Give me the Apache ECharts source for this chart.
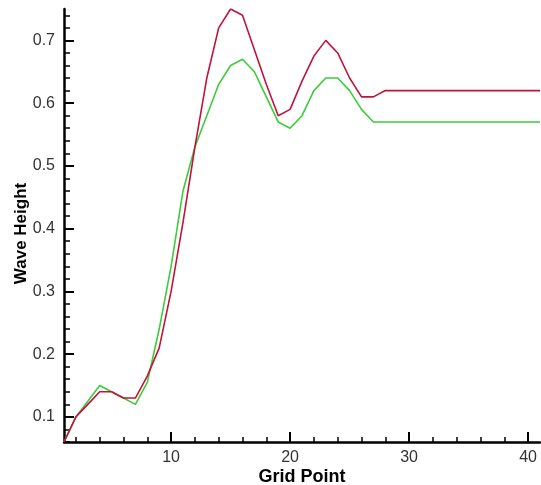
<!DOCTYPE html>
<html>
<head>
<meta charset="utf-8">
<title>Wave Height</title>
<script src="https://cdn.jsdelivr.net/npm/echarts@6/dist/echarts.min.js"></script>
<style>
  html, body { margin: 0; padding: 0; background: #fff; }
  #chart { width: 541px; height: 485px; }
</style>
</head>
<body>
<div id="chart"></div>
<script>
const gridPoints = [1, 2, 3, 4, 5, 6, 7, 8, 9, 10, 11, 12, 13, 14, 15, 16, 17, 18, 19, 20,
  21, 22, 23, 24, 25, 26, 27, 28, 29, 30, 31, 32, 33, 34, 35, 36, 37, 38, 39, 40, 41]

const redHeight = [0.06, 0.10, 0.12, 0.14, 0.14, 0.13, 0.13, 0.165, 0.21, 0.30,
  0.41, 0.53, 0.64, 0.72, 0.75, 0.74, 0.685, 0.63, 0.58, 0.59,
  0.635, 0.675, 0.70, 0.68, 0.64, 0.61, 0.61, 0.62, 0.62, 0.62,
  0.62, 0.62, 0.62, 0.62, 0.62, 0.62, 0.62, 0.62, 0.62, 0.62, 0.62]

const greenHeight = [0.06, 0.10, 0.125, 0.15, 0.14, 0.13, 0.12, 0.155, 0.24, 0.34,
  0.46, 0.53, 0.58, 0.63, 0.66, 0.67, 0.65, 0.61, 0.57, 0.56,
  0.58, 0.62, 0.64, 0.64, 0.62, 0.59, 0.57, 0.57, 0.57, 0.57,
  0.57, 0.57, 0.57, 0.57, 0.57, 0.57, 0.57, 0.57, 0.57, 0.57, 0.57]

const yMajorTicks = [0.1, 0.2, 0.3, 0.4, 0.5, 0.6, 0.7]
const yMinorTicks = [0.06, 0.08, 0.12, 0.14, 0.16, 0.18, 0.22, 0.24, 0.26, 0.28,
  0.32, 0.34, 0.36, 0.38, 0.42, 0.44, 0.46, 0.48, 0.52, 0.54, 0.56, 0.58,
  0.62, 0.64, 0.66, 0.68, 0.72, 0.74]
const xMajorTicks = [10, 20, 30, 40]
const xMinorTicks = [2, 4, 6, 8, 12, 14, 16, 18, 22, 24, 26, 28, 32, 34, 36, 38]

const font = 'Arial, "Liberation Sans", sans-serif'

const chart = echarts.init(document.getElementById('chart'))

const pairs = (vals) => gridPoints.map((x, i) => [x, vals[i]])

// minor ticks sit on a second, invisible copy of each axis
const xAxisBase = {type: 'value', min: 1, max: 41, position: 'bottom', splitLine: {show: false}}
const yAxisBase = {type: 'value', min: 0.06, max: 0.75, position: 'left', splitLine: {show: false}}

chart.setOption({
  animation: false,
  backgroundColor: '#fff',
  grid: {left: 64, right: 1, top: 9, bottom: 43, outerBoundsMode: 'none', containLabel: false},
  xAxis: [
    {
      ...xAxisBase,
      name: 'Grid Point',
      nameLocation: 'middle',
      nameGap: 26,
      nameMoveOverlap: false,
      nameTextStyle: {fontFamily: font, fontWeight: 'bold', fontSize: 18, color: '#000'},
      axisLine: {lineStyle: {color: '#000', width: 2.5}},
      axisTick: {inside: true, length: 10, lineStyle: {color: '#000', width: 2}, customValues: xMajorTicks},
      axisLabel: {customValues: xMajorTicks, margin: 8, fontFamily: font, fontSize: 16, color: '#333'}
    },
    {
      ...xAxisBase,
      offset: 0,
      axisLine: {show: false},
      axisLabel: {show: false},
      axisTick: {inside: true, length: 5, lineStyle: {color: '#000', width: 1.5}, customValues: xMinorTicks}
    }
  ],
  yAxis: [
    {
      ...yAxisBase,
      name: 'Wave Height',
      nameLocation: 'middle',
      nameGap: 34,
      nameMoveOverlap: false,
      nameTextStyle: {fontFamily: font, fontWeight: 'bold', fontSize: 17, color: '#000', padding: [0, 16, 0, 0]},
      axisLine: {lineStyle: {color: '#000', width: 2.5}},
      axisTick: {inside: true, length: 10, lineStyle: {color: '#000', width: 2}, customValues: yMajorTicks},
      axisLabel: {customValues: yMajorTicks, margin: 9, fontFamily: font, fontSize: 16, color: '#333',
        formatter: (v) => v.toFixed(1)}
    },
    {
      ...yAxisBase,
      offset: 0,
      axisLine: {show: false},
      axisLabel: {show: false},
      axisTick: {inside: true, length: 6, lineStyle: {color: '#000', width: 1.5}, customValues: yMinorTicks}
    }
  ],
  series: [
    {
      name: 'red',
      type: 'line',
      data: pairs(redHeight),
      showSymbol: false,
      lineStyle: {color: '#c0143a', width: 1.6},
      z: 3
    },
    {
      name: 'green',
      type: 'line',
      data: pairs(greenHeight),
      showSymbol: false,
      lineStyle: {color: '#3ccc3c', width: 1.6},
      z: 2
    }
  ]
})

window.addEventListener('resize', () => chart.resize())
</script>
</body>
</html>
